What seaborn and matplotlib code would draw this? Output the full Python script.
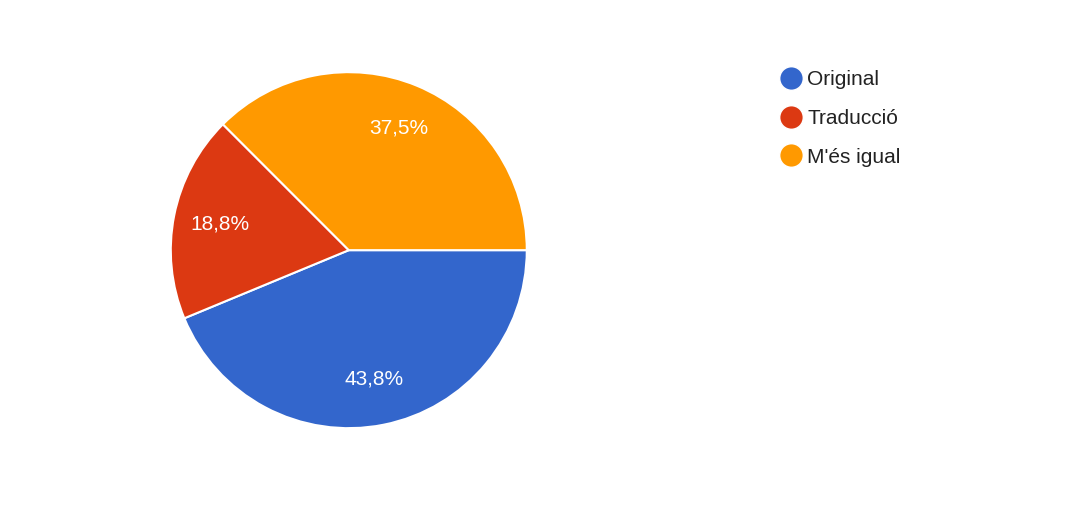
import matplotlib
matplotlib.use("Agg")
import matplotlib.pyplot as plt
import seaborn as sns
from matplotlib.lines import Line2D

categories = ["Original", "Traducció", "M'és igual"]
values = [7, 3, 6]
colors = ["#3366cc", "#dc3912", "#ff9900"]

sns.set_theme(style="white")
plt.rcParams['font.family'] = ['Liberation Sans', 'DejaVu Sans']
pal = sns.color_palette(colors)

fig = plt.figure(figsize=(10.74, 5.14), dpi=100)
ax = fig.add_axes([0.159, 0.167, 0.3315, 0.6926])
wedges, texts, autotexts = ax.pie(
    values, colors=pal, startangle=0, counterclock=False,
    autopct=lambda p: f"{p:.1f}%".replace(".", ","), pctdistance=0.74,
    wedgeprops=dict(edgecolor="white", linewidth=1.5),
    textprops=dict(color="white", fontsize=15))
ax.set_xlim(-1, 1)
ax.set_ylim(-1, 1)
ax.set_aspect("equal")

handles = [Line2D([0], [0], marker="o", color="w", markerfacecolor=c,
                  markersize=17, linestyle="") for c in colors]
leg = fig.legend(handles, categories, loc="upper left", bbox_to_anchor=(0.707, 0.9),
           frameon=False, fontsize=15, handletextpad=0.2, labelspacing=0.95,
           handlelength=1.2)
for t in leg.get_texts():
    t.set_color("#222222")
fig.savefig("out.png", dpi=100, facecolor="white")
